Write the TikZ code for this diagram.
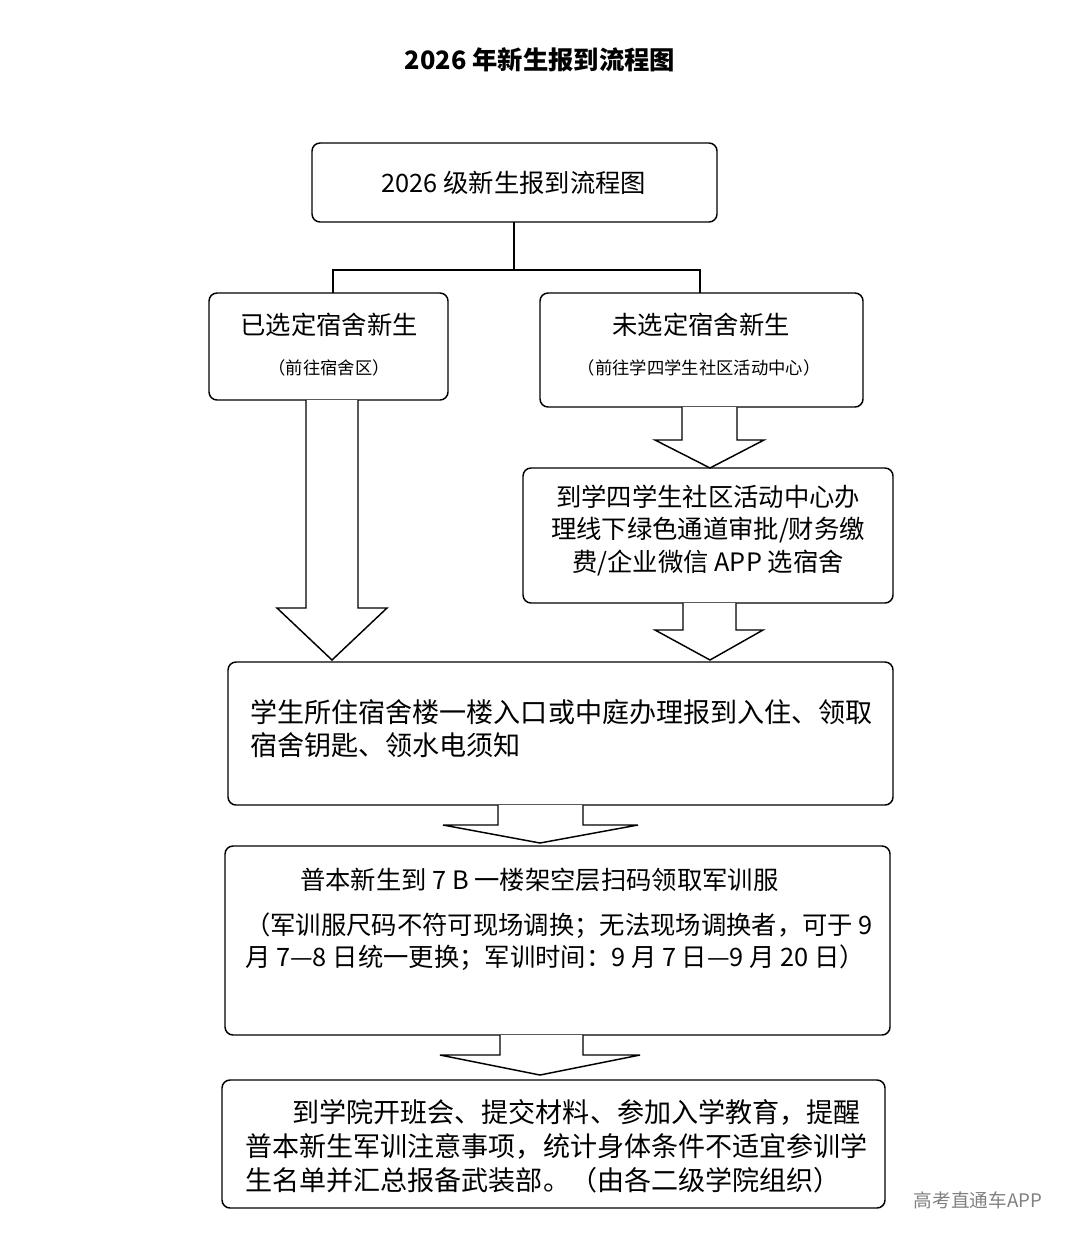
\documentclass[tikz,border=0pt]{standalone}
\usepackage{fontspec}
\setmainfont{Noto Sans CJK SC}
\newfontfamily\cjk{Noto Sans CJK SC}
\begin{document}
\begin{tikzpicture}[x=0.75pt,y=-0.75pt,
 box/.style={draw,line width=1.1pt,rounded corners=6pt},
 t/.style={font=\fontsize{19}{23}\selectfont,anchor=center,inner sep=0},
 tl/.style={font=\fontsize{19}{23}\selectfont,anchor=west,inner sep=0},
 tw/.style={font=\fontsize{20.3}{24}\selectfont,anchor=west,inner sep=0},
 s/.style={font=\fontsize{13}{15}\selectfont,inner sep=0},
 blk/.style={draw,line width=1.1pt,fill=white,line join=miter}]
\path[use as bounding box] (0,0) rectangle (1080,1242);
\node[font=\bfseries\fontsize{19}{23}\selectfont] (title) at (540,60) {2026 年新生报到流程图};
% boxes
\draw[box] (312,143) rectangle (717,222);
\node[t] (b0) at (514,183) {2026 级新生报到流程图};
\draw[box] (209,293) rectangle (448,400);
\node[t] (b1) at (329,325) {已选定宿舍新生};
\node[s] (b1s) at (329,368) {（前往宿舍区）};
\draw[box] (540,293) rectangle (863,407);
\node[t] (b2) at (701,325) {未选定宿舍新生};
\node[s] (b2s) at (699,368) {（前往学四学生社区活动中心）};
\draw[box] (523,468) rectangle (893,603);
\node[t] (b3a) at (708,497) {到学四学生社区活动中心办};
\node[t] (b3b) at (708,530) {理线下绿色通道审批/财务缴};
\node[t] (b3c) at (708,563) {费/企业微信 APP 选宿舍};
\draw[box] (228,662) rectangle (893,805);
\node[tw] (b4a) at (250,712) {学生所住宿舍楼一楼入口或中庭办理报到入住、领取};
\node[tw] (b4b) at (250,745) {宿舍钥匙、领水电须知};
\draw[box] (225,846) rectangle (890,1035);
\node[tl] (b5a) at (300,880) {普本新生到 7 B 一楼架空层扫码领取军训服};
\node[tl] (b5b) at (245,926) {（军训服尺码不符可现场调换；无法现场调换者，可于 9};
\node[tl] (b5c) at (245,958) {月 7—8 日统一更换；军训时间：9 月 7 日—9 月 20 日）};
\draw[box] (222,1080) rectangle (885,1208);
\node[tw] (b6a) at (292,1112) {到学院开班会、提交材料、参加入学教育，提醒};
\node[tw] (b6b) at (245,1146) {普本新生军训注意事项，统计身体条件不适宜参训学};
\node[tw] (b6c) at (245,1180) {生名单并汇总报备武装部。（由各二级学院组织）};
% connector
\coordinate (j) at (514,270);
\draw[line width=1.1pt] (514,222) -- (j);
\draw[line width=1.1pt] (333,293) -- (333,270) -- (700,270) -- (700,293);
% block arrows
\draw[blk] (682,407) -- (682,440) -- (655,440) -- (710,468) -- (764,440) -- (737,440) -- (737,407);
\draw[blk] (683,603) -- (683,630) -- (655,630) -- (710,660) -- (763,630) -- (736,630) -- (736,603);
\draw[blk] (306,400) -- (306,608) -- (277,608) -- (332,660) -- (387,608) -- (358,608) -- (358,400);
\draw[blk] (498,805) -- (498,825) -- (443,825) -- (540,843) -- (638,825) -- (583,825) -- (583,805);
\draw[blk] (500,1035) -- (500,1055) -- (440,1055) -- (540,1075) -- (640,1055) -- (583,1055) -- (583,1035);
\node[font=\fontsize{14}{16}\selectfont,text=gray,inner sep=0] (wm) at (978,1200) {高考直通车APP};
\end{tikzpicture}
\end{document}
